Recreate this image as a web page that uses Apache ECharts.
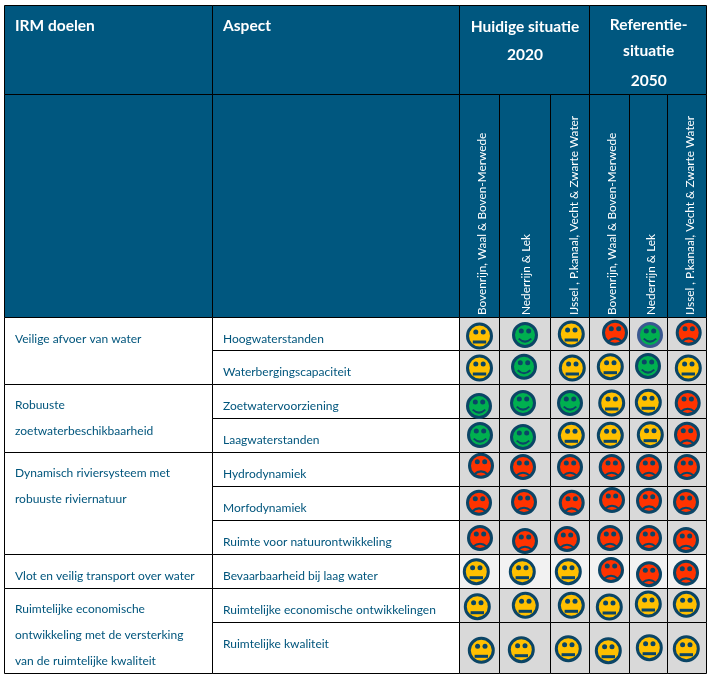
<!DOCTYPE html>
<html>
<head>
<meta charset="utf-8">
<style>html,body{margin:0;padding:0;background:#fff}#c{width:714px;height:679px}</style>
<script src="https://cdn.jsdelivr.net/npm/echarts@6/dist/echarts.min.js"></script>
</head>
<body>
<div id="c"></div>
<script>
// ---- data ----
const columnTitles = ['IRM doelen', 'Aspect'];
const scenario2020 = ['Huidige situatie', '2020'];
const scenario2050 = ['Referentie-', 'situatie', '2050'];
const rivers = ['Bovenrijn, Waal & Boven-Merwede', 'Nederrijn & Lek', 'IJssel , P.kanaal, Vecht & Zwarte Water'];
const goals = [
  ['Veilige afvoer van water'],
  ['Robuuste', 'zoetwaterbeschikbaarheid'],
  ['Dynamisch riviersysteem met', 'robuuste riviernatuur'],
  ['Vlot en veilig transport over water'],
  ['Ruimtelijke economische', 'ontwikkeling met de versterking', 'van de ruimtelijke kwaliteit']
];
const goalRowCounts = [2, 2, 3, 1, 2];
const aspects = ['Hoogwaterstanden', 'Waterbergingscapaciteit', 'Zoetwatervoorziening', 'Laagwaterstanden', 'Hydrodynamiek', 'Morfodynamiek', 'Ruimte voor natuurontwikkeling', 'Bevaarbaarheid bij laag water', 'Ruimtelijke economische ontwikkelingen', 'Ruimtelijke kwaliteit'];
// 1 = good (green), 0 = neutral (yellow), -1 = bad (red)
const scores = [
  [0, 1, 0, -1, 1, -1],
  [0, 1, 0, 0, 1, 0],
  [1, 1, 1, 0, 0, -1],
  [1, 1, 0, 0, 0, -1],
  [-1, -1, -1, -1, -1, -1],
  [-1, -1, -1, -1, -1, -1],
  [-1, -1, -1, -1, -1, -1],
  [0, 0, 0, -1, -1, -1],
  [0, 0, 0, 0, 0, 0],
  [0, 0, 0, 0, 0, 0]
];

// ---- layout (table grid lines, in axis units) ----
const colEdges = [4, 212, 459, 499, 550, 589, 629, 667, 706];
const rowEdges = [5, 94, 317, 350, 384, 418, 452, 486, 520, 554, 588, 622, 673];
const goalTextY = [[339], [405, 430.7], [473, 499], [576], [609, 635, 660.7]];
const aspectTextY = [339, 372, 406, 440, 473.7, 508, 542, 576, 610, 644];
const riverTextX = [482.3, 525.7, 573.7, 612, 651.3, 690.3];
// hand placement of the pasted icons relative to the cell centre
const nudgeX = [
  [0, 0, 1.3, 5.5, 1.5, 1.7], [0, -1, 2.3, .8, -.5, 1.3], [-.5, -2, 0, 2.2, -.2, .7], [.5, -2, 1.3, .8, 1.8, 0], [1.5, -2, 0, 2.2, .5, 0],
  [-.5, -1, 1.7, 2.5, .5, -1], [.5, 0, -3, .5, .5, -1], [-3.2, -2.7, -1.7, 1.5, .5, -1], [-2.2, .3, 1.3, -.2, -.2, -.7], [1.8, -3.7, -1.7, -1.2, .8, -.7]
];
const nudgeY = [
  [2, 1, 0, -1.3, 1, -1.3], [.5, -.8, .5, -.8, -1.5, .5], [4.5, 1.5, 1.5, 1.5, .8, 1.5], [-.5, 1.5, -.2, -.2, -.8, -.8], [-3.8, -2.5, -2.5, -2.5, -2.5, -2.5],
  [-.8, -1.5, -.8, -3.5, -2.8, -1.5], [.5, 3.5, 1.5, .5, .5, 2.5], [.2, .2, .2, -1.5, 2.8, 1.2], [1.2, -.2, -.2, 1.5, -1.5, -1.2], [2.3, 1.7, .7, 2.7, -.3, .7]
];

// ---- styles ----
const FONT = 'Lato, "Open Sans", sans-serif';
const HEADER = '#00577F', TEXT = '#00557C', RING = '#0B4566', ALT_RING = '#3A5890';
const FILL = {'1': '#00B050', '0': '#FFC000', '-1': '#FF3300'};

// ---- cells ----
const cells = [];
function cell(c0, c1, r0, r1, fill) { cells.push([colEdges[c0] + .5, colEdges[c1] + .5, rowEdges[r0] + .5, rowEdges[r1] + .5, fill]); }
cell(0, 1, 0, 1, HEADER); cell(1, 2, 0, 1, HEADER); cell(2, 5, 0, 1, HEADER); cell(5, 8, 0, 1, HEADER);
cell(0, 1, 1, 2, HEADER); cell(1, 2, 1, 2, HEADER);
for (let c = 2; c < 8; c++) cell(c, c + 1, 1, 2, HEADER);
let startRow = 2;
goalRowCounts.forEach(n => { cell(0, 1, startRow, startRow + n, '#fff'); startRow += n; });
aspects.forEach((_, i) => {
  cell(1, 2, i + 2, i + 3, '#fff');
  for (let c = 2; c < 8; c++) cell(c, c + 1, i + 2, i + 3, i === 7 ? '#F2F2F2' : '#D9D9D9');
});

// ---- texts ----
const texts = [];
function label(str, x, y, size, weight, fill, align, rot) { texts.push({str, x, y, size, weight, fill, align, rot}); }
label(columnTitles[0], 15, 26, 15.5, 700, '#fff', 'left', 0);
label(columnTitles[1], 223, 26, 15.5, 700, '#fff', 'left', 0);
[26.5, 54.7].forEach((y, i) => label(scenario2020[i], 525, y, 15.5, 700, '#fff', 'center', 0));
[25, 51, 81].forEach((y, i) => label(scenario2050[i], 648.7, y, 15.5, 700, '#fff', 'center', 0));
riverTextX.forEach((x, i) => label(rivers[i % 3], x, 315, 11.8, 400, '#fff', 'left', Math.PI / 2));
goals.forEach((lines, g) => lines.forEach((t, i) => label(t, 15, goalTextY[g][i], 12, 400, TEXT, 'left', 0)));
aspects.forEach((t, i) => label(t, 223, aspectTextY[i], 12, 400, TEXT, 'left', 0));

// ---- faces ----
const faces = [];
scores.forEach((row, r) => row.forEach((s, c) => {
  const x = (colEdges[c + 2] + colEdges[c + 3] + 1) / 2 + nudgeX[r][c];
  const y = (rowEdges[r + 2] + rowEdges[r + 3] + 1) / 2 + nudgeY[r][c];
  faces.push([x, y, s, (r === 0 && c === 4) ? 1 : 0]);
}));

function faceChildren(s, ring) {
  const R = s === 0 ? 13.5 : 13;
  const kids = [
    {type: 'circle', shape: {cx: 0, cy: 0, r: R - 1.5}, style: {fill: FILL[s], stroke: ring, lineWidth: 3}},
    {type: 'circle', shape: {cx: -3.7, cy: -4, r: 2.5}, style: {fill: RING}},
    {type: 'circle', shape: {cx: 3.7, cy: -4, r: 2.5}, style: {fill: RING}}
  ];
  if (s === 0) kids.push({type: 'rect', shape: {x: -6.7, y: 4.5, width: 13.4, height: 3}, style: {fill: RING}});
  if (s === 1) kids.push({type: 'bezierCurve', shape: {x1: -6.3, y1: 3.6, x2: 6.3, y2: 3.6, cpx1: 0, cpy1: 9.6}, style: {fill: null, stroke: RING, lineWidth: 2}});
  if (s === -1) kids.push({type: 'bezierCurve', shape: {x1: -7, y1: 8.8, x2: 7, y2: 8.8, cpx1: 0, cpy1: 2.6}, style: {fill: null, stroke: RING, lineWidth: 2}});
  return kids;
}

const chart = echarts.init(document.getElementById('c'), null, {renderer: 'canvas'});
const hiddenAxis = {type: 'value', min: 0, show: false, splitLine: {show: false}};
chart.setOption({
  animation: false,
  backgroundColor: '#fff',
  grid: {left: 0, top: 0, width: 714, height: 679},
  xAxis: Object.assign({}, hiddenAxis, {max: 714}),
  yAxis: Object.assign({}, hiddenAxis, {max: 679, inverse: true}),
  series: [
    {
      name: 'cells', type: 'custom', silent: true, clip: false, z: 1, data: cells,
      encode: {x: 0, y: 2},
      renderItem(params, api) {
        const a = api.coord([api.value(0), api.value(2)]);
        const b = api.coord([api.value(1), api.value(3)]);
        return {type: 'rect', shape: {x: a[0], y: a[1], width: b[0] - a[0], height: b[1] - a[1]},
          style: {fill: cells[params.dataIndex][4], stroke: '#000', lineWidth: 1}};
      }
    },
    {
      name: 'labels', type: 'custom', silent: true, clip: false, z: 2,
      data: texts.map(t => [t.x, t.y]),
      encode: {x: 0, y: 1},
      renderItem(params, api) {
        const t = texts[params.dataIndex];
        const p = api.coord([api.value(0), api.value(1)]);
        return {type: 'text', x: p[0], y: p[1], rotation: t.rot,
          style: {text: t.str, x: 0, y: 0, fill: t.fill, fontFamily: FONT, fontSize: t.size, fontWeight: t.weight, align: t.align, verticalAlign: 'middle'}};
      }
    },
    {
      name: 'scores', type: 'custom', silent: true, clip: false, z: 3, data: faces,
      encode: {x: 0, y: 1},
      renderItem(params, api) {
        const p = api.coord([api.value(0), api.value(1)]);
        const ring = api.value(3) ? ALT_RING : RING;
        return {type: 'group', x: p[0], y: p[1], children: faceChildren(api.value(2), ring)};
      }
    }
  ]
});
</script>
</body>
</html>
